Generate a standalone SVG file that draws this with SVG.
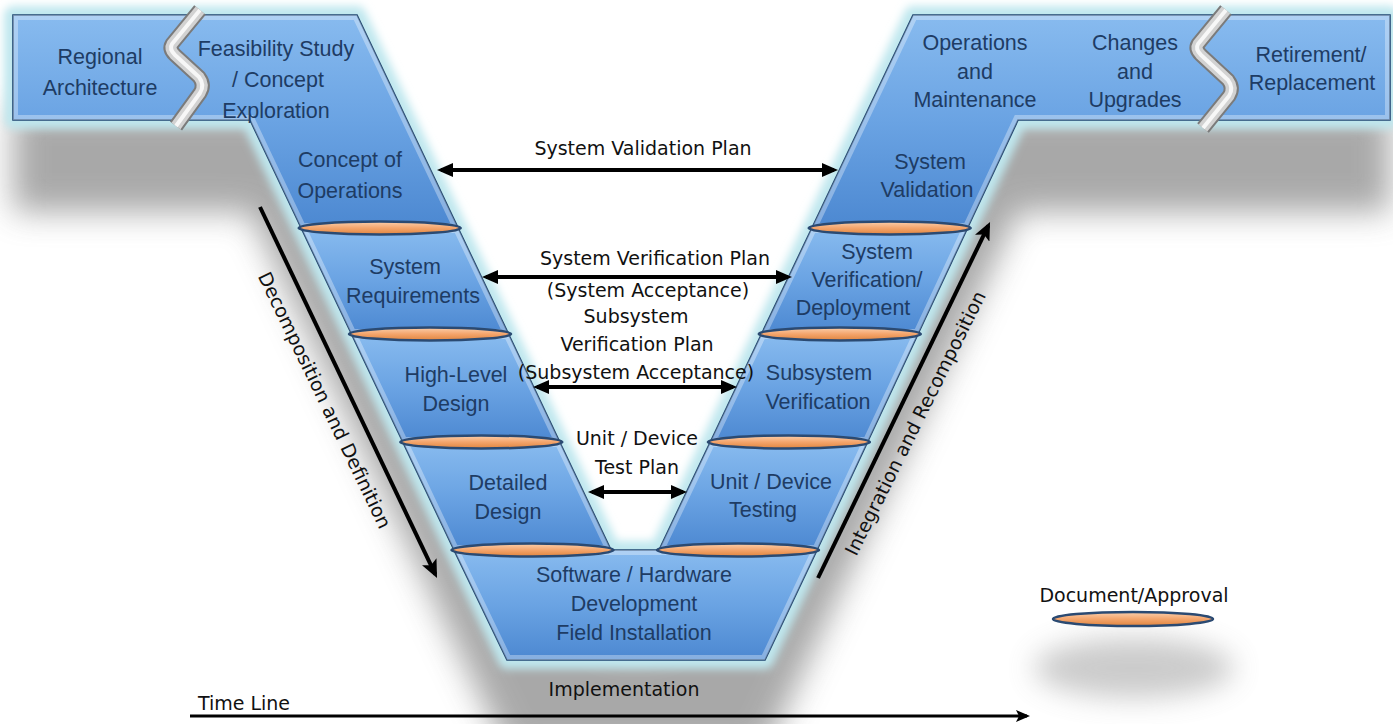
<svg xmlns="http://www.w3.org/2000/svg" xmlns:xlink="http://www.w3.org/1999/xlink" width="1393" height="724" viewBox="0 0 1393 724">
<style>
.sec{stroke:#1f4470;stroke-width:1.6;}
.bev{fill:none;stroke:#ffffff;stroke-opacity:0.33;stroke-width:10;}
.doc{fill:url(#gOrange);stroke:#2b4a72;stroke-width:2.5;}
.bt{font-family:"Liberation Sans",Arial,sans-serif;font-size:21.5px;fill:#1e3c64;text-anchor:middle;}
.kt{font-family:"DejaVu Sans",Verdana,sans-serif;font-size:19px;fill:#111111;text-anchor:middle;}
.arr{stroke:#000;stroke-width:4;fill:none;}
.sq1{fill:none;stroke:#7b7b7b;stroke-width:15;stroke-linejoin:round;}
.sq2{fill:none;stroke:#d2d2d2;stroke-width:11;stroke-linejoin:round;}
.sq3{fill:none;stroke:#f7f7f7;stroke-width:4;stroke-linejoin:round;}
</style>
<defs>
<linearGradient id="gBlue" x1="0" y1="0" x2="0" y2="1">
<stop offset="0" stop-color="#88bbef"/>
<stop offset="0.5" stop-color="#6aa3e3"/>
<stop offset="1" stop-color="#4c88d1"/>
</linearGradient>
<linearGradient id="gOrange" x1="0" y1="0" x2="0" y2="1">
<stop offset="0" stop-color="#fbd0ae"/>
<stop offset="0.5" stop-color="#f4a56c"/>
<stop offset="1" stop-color="#e0853f"/>
</linearGradient>
<filter id="fShadow" x="-10%" y="-20%" width="120%" height="140%"><feGaussianBlur stdDeviation="16"/></filter>
<filter id="fGlow" x="-10%" y="-10%" width="120%" height="120%"><feGaussianBlur stdDeviation="4"/></filter>
<filter id="fSoft" x="-50%" y="-100%" width="200%" height="300%"><feGaussianBlur stdDeviation="14"/></filter>
<marker id="ah" markerUnits="userSpaceOnUse" markerWidth="16" markerHeight="14" viewBox="0 0 16 14" refX="12" refY="7" orient="auto-start-reverse"><path d="M0,0 L16,7 L0,14 Z" fill="#000"/></marker>
<marker id="ahN" markerUnits="userSpaceOnUse" markerWidth="18" markerHeight="16" viewBox="0 0 18 16" refX="14" refY="8" orient="auto"><path d="M0,0 L18,8 L0,16 L4,8 Z" fill="#000"/></marker>
<marker id="ahT" markerUnits="userSpaceOnUse" markerWidth="14" markerHeight="12" viewBox="0 0 14 12" refX="11" refY="6" orient="auto"><path d="M0,0 L14,6 L0,12 L3,6 Z" fill="#000"/></marker>
<path id="outline" d="M13,15 L357,15 L611,550 L659,550 L913,15 L1390,15 L1390,120 L1018,120 L817,550 L765,660 L507,660 L454,550 L250,120 L13,120 Z"/>
<path id="pTL" d="M13,15 L357,15 L458.1,228 L301.2,228 L250,120 L13,120 Z"/>
<path id="pSR" d="M301.2,228 L458.1,228 L508.5,334 L351.5,334 Z"/>
<path id="pHL" d="M351.5,334 L508.5,334 L559.7,442 L402.8,442 Z"/>
<path id="pDD" d="M402.8,442 L559.7,442 L611,550 L454,550 Z"/>
<path id="pSW" d="M454,550 L817,550 L765,660 L507,660 Z"/>
<path id="pUD" d="M659,550 L710.3,442 L867.5,442 L817,550 Z"/>
<path id="pSV" d="M710.3,442 L761.5,334 L918,334 L867.5,442 Z"/>
<path id="pSD" d="M761.5,334 L811.9,228 L967.5,228 L918,334 Z"/>
<path id="pTR" d="M811.9,228 L913,15 L1390,15 L1390,120 L1018,120 L967.5,228 Z"/>
<clipPath id="cTL"><use xlink:href="#pTL"/></clipPath>
<clipPath id="cSR"><use xlink:href="#pSR"/></clipPath>
<clipPath id="cHL"><use xlink:href="#pHL"/></clipPath>
<clipPath id="cDD"><use xlink:href="#pDD"/></clipPath>
<clipPath id="cSW"><use xlink:href="#pSW"/></clipPath>
<clipPath id="cUD"><use xlink:href="#pUD"/></clipPath>
<clipPath id="cSV"><use xlink:href="#pSV"/></clipPath>
<clipPath id="cSD"><use xlink:href="#pSD"/></clipPath>
<clipPath id="cTR"><use xlink:href="#pTR"/></clipPath>
</defs>
<rect x="0" y="0" width="1393" height="724" fill="#ffffff"/>
<g id="backdrop">
<use xlink:href="#outline" transform="translate(0,92)" fill="#707070" opacity="0.6" filter="url(#fShadow)"/>
<ellipse cx="1134" cy="668" rx="100" ry="30" fill="#8c8c8c" opacity="0.45" filter="url(#fSoft)"/>
<use xlink:href="#outline" fill="none" stroke="#bfe7ee" stroke-width="18" stroke-linejoin="round" filter="url(#fGlow)"/>
</g>
<g id="node-regional-architecture">
<use xlink:href="#pTL" class="sec" fill="url(#gBlue)"/>
<use xlink:href="#pTL" class="bev" clip-path="url(#cTL)"/>
<text class="bt" x="100" y="64">Regional</text>
<text class="bt" x="100" y="95">Architecture</text>
</g>
<g id="node-feasibility-study">
<text class="bt" x="276" y="56">Feasibility Study</text>
<text class="bt" x="278" y="87">/ Concept</text>
<text class="bt" x="276" y="118">Exploration</text>
</g>
<g id="node-concept-of-operations">
<text class="bt" x="350" y="167">Concept of</text>
<text class="bt" x="350" y="198">Operations</text>
</g>
<g id="node-system-requirements">
<use xlink:href="#pSR" class="sec" fill="url(#gBlue)"/>
<use xlink:href="#pSR" class="bev" clip-path="url(#cSR)"/>
<text class="bt" x="405" y="274">System</text>
<text class="bt" x="413" y="303">Requirements</text>
</g>
<g id="node-high-level-design">
<use xlink:href="#pHL" class="sec" fill="url(#gBlue)"/>
<use xlink:href="#pHL" class="bev" clip-path="url(#cHL)"/>
<text class="bt" x="456" y="382">High-Level</text>
<text class="bt" x="456" y="411">Design</text>
</g>
<g id="node-detailed-design">
<use xlink:href="#pDD" class="sec" fill="url(#gBlue)"/>
<use xlink:href="#pDD" class="bev" clip-path="url(#cDD)"/>
<text class="bt" x="508" y="490">Detailed</text>
<text class="bt" x="508" y="519">Design</text>
</g>
<g id="node-software-hardware">
<use xlink:href="#pSW" class="sec" fill="url(#gBlue)"/>
<use xlink:href="#pSW" class="bev" clip-path="url(#cSW)"/>
<text class="bt" x="634" y="582">Software / Hardware</text>
<text class="bt" x="634" y="611">Development</text>
<text class="bt" x="634" y="640">Field Installation</text>
</g>
<g id="node-unit-device-testing">
<use xlink:href="#pUD" class="sec" fill="url(#gBlue)"/>
<use xlink:href="#pUD" class="bev" clip-path="url(#cUD)"/>
<text class="bt" x="771" y="489">Unit / Device</text>
<text class="bt" x="763" y="517">Testing</text>
</g>
<g id="node-subsystem-verification">
<use xlink:href="#pSV" class="sec" fill="url(#gBlue)"/>
<use xlink:href="#pSV" class="bev" clip-path="url(#cSV)"/>
<text class="bt" x="819" y="380">Subsystem</text>
<text class="bt" x="818" y="409">Verification</text>
</g>
<g id="node-system-verification-deployment">
<use xlink:href="#pSD" class="sec" fill="url(#gBlue)"/>
<use xlink:href="#pSD" class="bev" clip-path="url(#cSD)"/>
<text class="bt" x="877" y="259">System</text>
<text class="bt" x="867" y="287">Verification/</text>
<text class="bt" x="853" y="315">Deployment</text>
</g>
<g id="node-system-validation">
<use xlink:href="#pTR" class="sec" fill="url(#gBlue)"/>
<use xlink:href="#pTR" class="bev" clip-path="url(#cTR)"/>
<text class="bt" x="930" y="169">System</text>
<text class="bt" x="927" y="197">Validation</text>
</g>
<g id="node-operations-maintenance">
<text class="bt" x="975" y="50">Operations</text>
<text class="bt" x="975" y="79">and</text>
<text class="bt" x="975" y="107">Maintenance</text>
</g>
<g id="node-changes-upgrades">
<text class="bt" x="1135" y="50">Changes</text>
<text class="bt" x="1135" y="79">and</text>
<text class="bt" x="1135" y="107">Upgrades</text>
</g>
<g id="node-retirement-replacement">
<text class="bt" x="1311" y="62">Retirement/</text>
<text class="bt" x="1312" y="90">Replacement</text>
</g>
<g id="breaks">
<path class="sq1" d="M200,10 L172,44 Q169,49 175,55 L199,77 Q205,85 200,93 L176,126"/>
<path class="sq2" d="M200,10 L172,44 Q169,49 175,55 L199,77 Q205,85 200,93 L176,126"/>
<path class="sq3" d="M200,10 L172,44 Q169,49 175,55 L199,77 Q205,85 200,93 L176,126"/>
<path class="sq1" d="M1226,10 L1198,44 Q1195,49 1201,55 L1228,80 Q1234,88 1229,96 L1203,128"/>
<path class="sq2" d="M1226,10 L1198,44 Q1195,49 1201,55 L1228,80 Q1234,88 1229,96 L1203,128"/>
<path class="sq3" d="M1226,10 L1198,44 Q1195,49 1201,55 L1228,80 Q1234,88 1229,96 L1203,128"/>
</g>
<g id="documents">
<ellipse class="doc" cx="379.7" cy="228" rx="81" ry="6.5"/>
<ellipse class="doc" cx="430" cy="334" rx="81" ry="6.5"/>
<ellipse class="doc" cx="481.3" cy="442" rx="81" ry="6.5"/>
<ellipse class="doc" cx="532.5" cy="550" rx="81" ry="6.5"/>
<ellipse class="doc" cx="889.7" cy="228" rx="81" ry="6.5"/>
<ellipse class="doc" cx="839.8" cy="334" rx="81" ry="6.5"/>
<ellipse class="doc" cx="788.9" cy="442" rx="81" ry="6.5"/>
<ellipse class="doc" cx="738" cy="550" rx="81" ry="6.5"/>
</g>
<g id="connectors">
<line class="arr" x1="441" y1="170" x2="834" y2="170" marker-start="url(#ah)" marker-end="url(#ah)"/>
<line class="arr" x1="486" y1="277" x2="788" y2="277" marker-start="url(#ah)" marker-end="url(#ah)"/>
<line class="arr" x1="537" y1="387" x2="733" y2="387" marker-start="url(#ah)" marker-end="url(#ah)"/>
<line class="arr" x1="592" y1="492" x2="683" y2="492" marker-start="url(#ah)" marker-end="url(#ah)"/>
<line class="arr" x1="260" y1="207" x2="435.3" y2="574.4" marker-end="url(#ahN)"/>
<line class="arr" x1="818" y1="578" x2="988.3" y2="225.6" marker-end="url(#ahN)"/>
<line x1="190" y1="716" x2="1027" y2="716" stroke="#000" stroke-width="3" marker-end="url(#ahT)"/>
</g>
<g id="labels">
<text class="kt" x="643" y="155">System Validation Plan</text>
<text class="kt" x="655" y="265">System Verification Plan</text>
<text class="kt" x="648" y="297">(System Acceptance)</text>
<text class="kt" x="636" y="323">Subsystem</text>
<text class="kt" x="637" y="351">Verification Plan</text>
<text class="kt" x="636" y="379">(Subsystem Acceptance)</text>
<text class="kt" x="637" y="445">Unit / Device</text>
<text class="kt" x="637" y="474">Test Plan</text>
<text class="kt" x="624" y="696">Implementation</text>
<text class="kt" x="244" y="710">Time Line</text>
<text class="kt" transform="translate(325,400) rotate(64.3)" x="0" y="7">Decomposition and Definition</text>
<text class="kt" transform="translate(915,423) rotate(-63.6)" x="0" y="7">Integration and Recomposition</text>
</g>
<g id="legend">
<text class="kt" x="1134" y="602">Document/Approval</text>
<ellipse class="doc" cx="1133" cy="619" rx="80" ry="7"/>
</g>
</svg>
